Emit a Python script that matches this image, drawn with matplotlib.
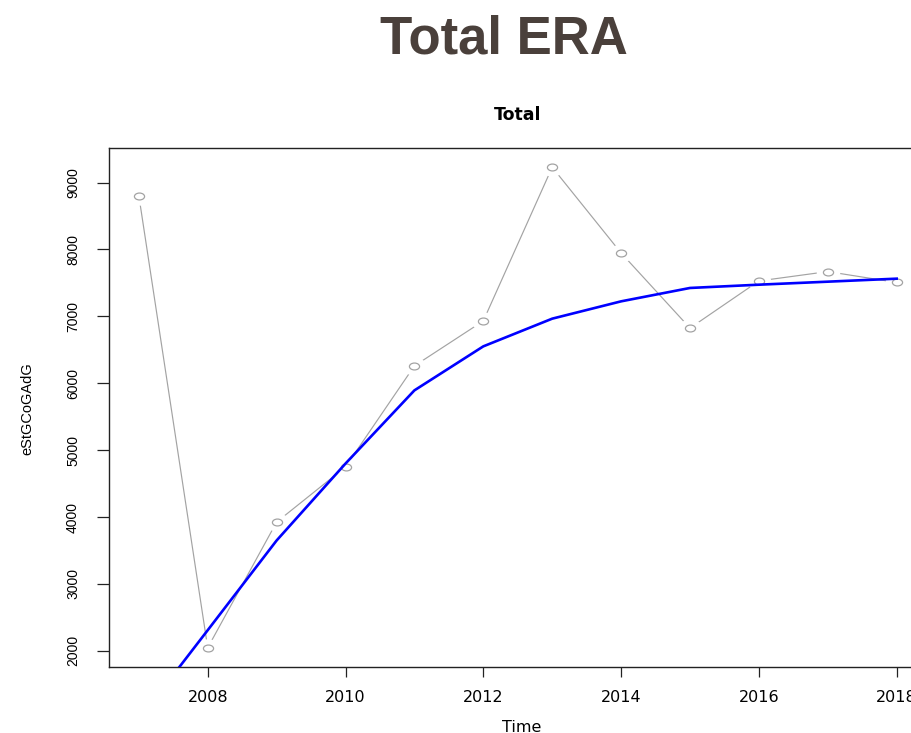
import matplotlib
matplotlib.use("Agg")
import matplotlib.pyplot as plt
from matplotlib.path import Path
from matplotlib.transforms import Affine2D

# ---- data ----
years = [2007, 2008, 2009, 2010, 2011, 2012, 2013, 2014, 2015, 2016, 2017, 2018]
observed = [8806, 2046, 3925, 4750, 6260, 6932, 9230, 7948, 6825, 7530, 7670, 7507]
fitted = [971, 2309, 3650, 4800, 5894, 6552, 6966, 7225, 7425, 7474, 7519, 7564]
x_ticks = [2008, 2010, 2012, 2014, 2016, 2018]
y_ticks = [2000, 3000, 4000, 5000, 6000, 7000, 8000, 9000]

W, H = 911, 733
fig = plt.figure(figsize=(W / 100, H / 100), dpi=100)

# axes box in pixels (right edge lies outside the image, as in the reference)
left_px, right_px, top_px, bottom_px = 108.5, 927.0, 148.0, 667.0
ax = fig.add_axes([left_px / W, 1 - bottom_px / H,
                   (right_px - left_px) / W, (bottom_px - top_px) / H])

# R-style 4% padding
xmin, xmax = min(years), max(years)
xr = xmax - xmin
ymin, ymax = min(observed), max(observed)
yr = ymax - ymin
ax.set_xlim(xmin - 0.04 * xr, xmax + 0.04 * xr)
ax.set_ylim(ymin - 0.04 * yr, ymax + 0.04 * yr)

gray = "#A3A3A3"
ell_small = Path.unit_circle().transformed(Affine2D().scale(1.0, 0.68))
ell_mask = Path.unit_circle().transformed(Affine2D().scale(1.0, 0.78))

# type="b" style: line with gaps around the points
ax.plot(years, observed, color=gray, lw=0.85, zorder=2, solid_capstyle="butt")
ax.plot(years, observed, ls="none", marker=ell_mask, ms=17,
        mfc="white", mec="white", mew=0, zorder=3)
ax.plot(years, observed, ls="none", marker=ell_small, ms=7.3,
        mfc="none", mec=gray, mew=0.9, zorder=4)
ax.plot(years, fitted, color="#0000FF", lw=1.9, zorder=5)

for s in ax.spines.values():
    s.set_linewidth(1.0)
    s.set_color("#222222")

ax.set_xticks(x_ticks)
ax.set_xticklabels([str(v) for v in x_ticks])
ax.set_yticks(y_ticks)
ax.set_yticklabels([str(v) for v in y_ticks])

ax.tick_params(axis="x", direction="out", length=7.0, width=0.9, pad=9.6,
               labelsize=11.5, colors="#222222", labelcolor="black")
ax.tick_params(axis="y", direction="out", length=9.0, width=0.9, pad=11.5,
               labelsize=10, colors="#222222", labelcolor="black")
for lbl in ax.get_xticklabels():
    lbl.set_family("DejaVu Sans")
for lbl in ax.get_yticklabels():
    lbl.set_family("Liberation Sans")
    lbl.set_rotation(90)
    lbl.set_va("center")
    lbl.set_ha("right")

ax.set_xlabel("Time", family="DejaVu Sans", fontsize=11.5, va="baseline")
ax.xaxis.set_label_coords((522 - left_px) / (right_px - left_px),
                          (bottom_px - 731.5) / (bottom_px - top_px))
ax.set_ylabel("eStGCoGAdG", family="Liberation Sans", fontsize=10.5, va="center")
ax.yaxis.set_label_coords((27 - left_px) / (right_px - left_px),
                          (bottom_px - 409) / (bottom_px - top_px))

# plot title and page title
fig.text(518 / W, 1 - 120 / H, "Total", ha="center", va="baseline",
         family="DejaVu Sans", weight="bold", fontsize=12.5, color="black")
fig.text(504 / W, 1 - 53.5 / H, "Total ERA", ha="center", va="baseline",
         family="Liberation Sans", weight="bold", fontsize=38, color="#4A403B")

fig.savefig("out.png", dpi=100, facecolor="white")
